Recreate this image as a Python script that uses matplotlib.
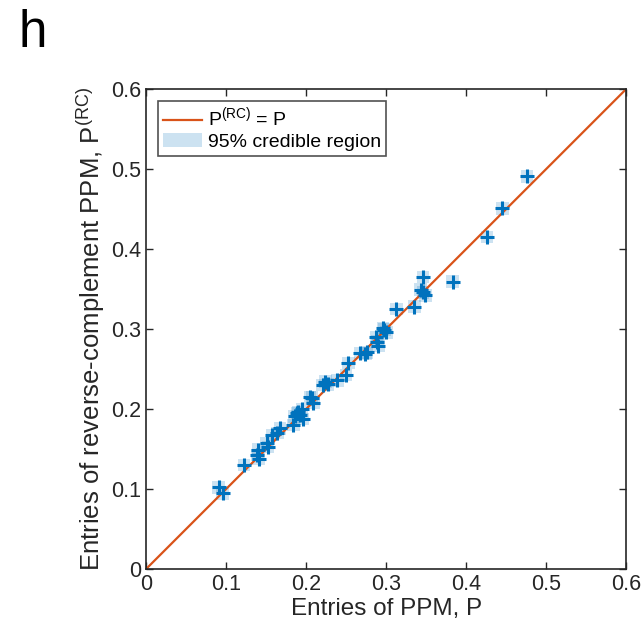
import numpy as np
import matplotlib.pyplot as plt
from matplotlib.patches import Rectangle, Patch
from matplotlib.lines import Line2D

plt.rcParams["font.family"] = ["Liberation Sans", "DejaVu Sans"]
plt.rcParams["mathtext.fontset"] = "custom"
plt.rcParams["mathtext.rm"] = "Liberation Sans"

# entries of the PPM (x) vs entries of reverse-complement PPM (y)
p_vals = [0.091, 0.096, 0.1225, 0.139, 0.140, 0.141, 0.151, 0.1525, 0.158, 0.164,
          0.1675, 0.184, 0.186, 0.189, 0.190, 0.1925, 0.196, 0.195, 0.205, 0.209,
          0.2075, 0.221, 0.224, 0.2275, 0.239, 0.250, 0.2525, 0.2675, 0.274, 0.276,
          0.2875, 0.289, 0.290, 0.296, 0.2975, 0.300, 0.3125, 0.335, 0.343, 0.346,
          0.346, 0.349, 0.383, 0.426, 0.445, 0.476]
prc_vals = [0.1025, 0.095, 0.130, 0.1425, 0.149, 0.1375, 0.1575, 0.1525, 0.1675, 0.170,
            0.176, 0.180, 0.191, 0.195, 0.196, 0.1925, 0.1875, 0.200, 0.215, 0.2075,
            0.214, 0.230, 0.234, 0.231, 0.236, 0.2425, 0.2575, 0.270, 0.269, 0.271,
            0.290, 0.284, 0.279, 0.301, 0.299, 0.296, 0.325, 0.328, 0.349, 0.346,
            0.365, 0.342, 0.359, 0.415, 0.451, 0.491]
# half widths of the 95% credible region
ci_half = [0.008] * len(p_vals)

blue = "#0072BD"
orange = "#D95319"

fig = plt.figure(figsize=(6.43, 6.22), dpi=100)
ax = fig.add_axes([0.227, 0.085, 0.747, 0.772])

for x, y, h in zip(p_vals, prc_vals, ci_half):
    ax.add_patch(Rectangle((x - h, y - h), 2 * h, 2 * h, facecolor=blue,
                           alpha=0.2, edgecolor="none", zorder=1))

ax.plot([0, 0.6], [0, 0.6], color=orange, lw=1.6, zorder=2)
ax.plot(p_vals, prc_vals, "+", color=blue, ms=10, mew=2.2, zorder=3)

ax.set_xlim(0, 0.6)
ax.set_ylim(0, 0.6)
ticks = [0, 0.1, 0.2, 0.3, 0.4, 0.5, 0.6]
ax.set_xticks(ticks)
ax.set_yticks(ticks)
ax.set_xticklabels(["0", "0.1", "0.2", "0.3", "0.4", "0.5", "0.6"])
ax.set_yticklabels(["0", "0.1", "0.2", "0.3", "0.4", "0.5", "0.6"])
ax.tick_params(direction="in", top=True, right=True, length=5, width=1,
               labelsize=15.5, colors="#262626", labelcolor="#262626")
for s in ax.spines.values():
    s.set_color("#262626")
    s.set_linewidth(1.2)

ax.set_xlabel("Entries of PPM, P", fontsize=17.5, color="#262626", labelpad=2)
ax.set_ylabel(r"Entries of reverse-complement PPM, P$^{\mathregular{(RC)}}$",
              fontsize=18.5, color="#262626", labelpad=3)

handles = [Line2D([], [], color=orange, lw=1.6),
           Patch(facecolor=blue, alpha=0.2, edgecolor="none")]
leg = ax.legend(handles, [r"P$^{\mathregular{(RC)}}$ = P", "95% credible region"],
                loc="upper left", bbox_to_anchor=(0.025, 0.975), fontsize=14,
                frameon=True, fancybox=False, edgecolor="#262626",
                handlelength=2.0, handletextpad=0.3, borderpad=0.25,
                labelspacing=0.15, borderaxespad=0)
leg.get_frame().set_linewidth(1.2)

fig.text(0.028, 0.985, "h", fontsize=37, va="top", ha="left")

fig.savefig("out.png", dpi=100)
